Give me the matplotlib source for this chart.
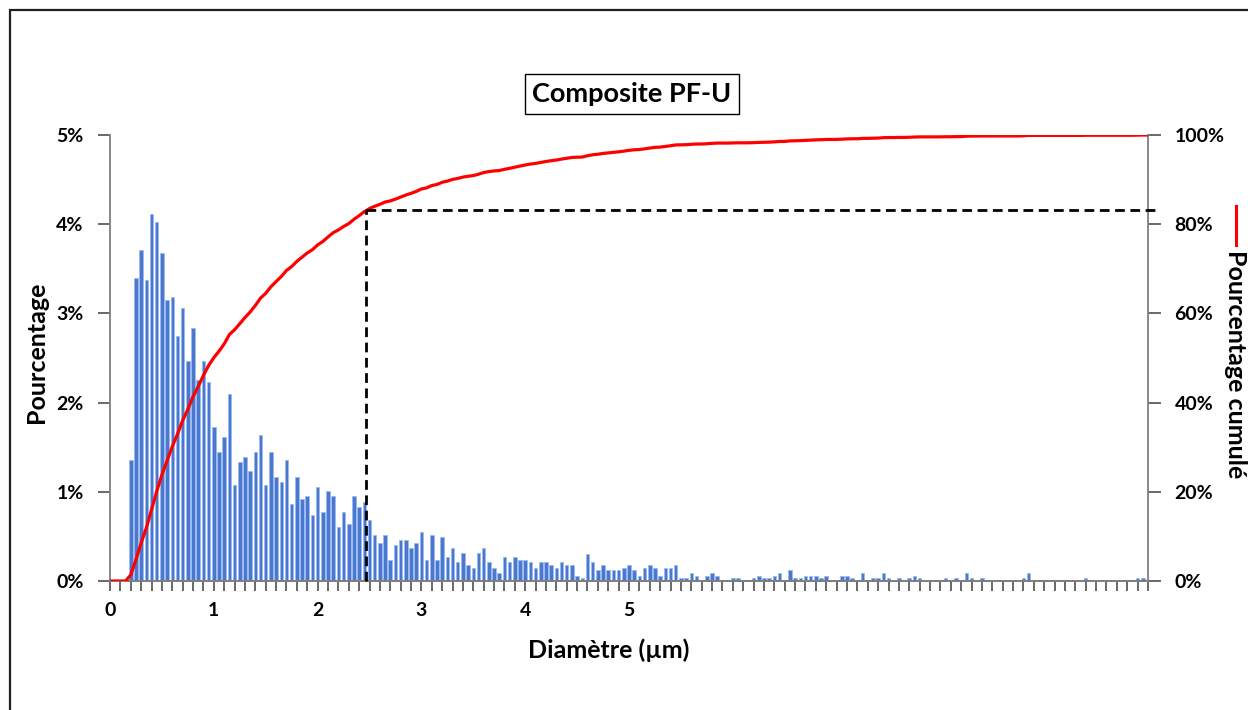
import numpy as np
import matplotlib
matplotlib.use("Agg")
import matplotlib.pyplot as plt
from matplotlib.patches import Rectangle
from matplotlib.lines import Line2D

plt.rcParams['font.family'] = ['Lato', 'DejaVu Sans']
plt.rcParams['font.weight'] = 'bold'

# ---- data ----
bin_width = 0.05
first_bin = 0.20
pct = [
    # 0.20 - 1.35
    1.36, 3.40, 3.71, 3.37, 4.11, 4.02, 3.68, 3.15, 3.18, 2.75, 3.06, 2.47,
    2.84, 2.25, 2.47, 2.23, 1.73, 1.45, 1.61, 2.10, 1.08, 1.33, 1.39, 1.23,
    # 1.40 - 2.45
    1.45, 1.64, 1.08, 1.45, 1.17, 1.11, 1.36, 0.86, 1.17, 0.92, 0.95, 0.74,
    1.05, 0.77, 1.01, 0.95, 0.61, 0.77, 0.64, 0.95, 0.83, 0.89,
    # 2.50 - 3.75
    0.68, 0.52, 0.43, 0.52, 0.24, 0.40, 0.46, 0.46, 0.37, 0.43, 0.55, 0.24,
    0.52, 0.24, 0.49, 0.27, 0.37, 0.21, 0.31, 0.18, 0.15, 0.31, 0.37, 0.21,
    0.15, 0.09,
    # 3.80 - 4.95
    0.27, 0.21, 0.27, 0.24, 0.24, 0.21, 0.15, 0.21, 0.21, 0.18, 0.15, 0.21,
    0.18, 0.18, 0.06, 0.03, 0.30, 0.21, 0.12, 0.18, 0.12, 0.12, 0.12, 0.15,
    # 5.00 - 5.95
    0.18, 0.12, 0.06, 0.15, 0.18, 0.15, 0.06, 0.15, 0.15, 0.18, 0.03, 0.03,
    0.09, 0.06, 0.00, 0.06, 0.09, 0.06, 0.00, 0.00,
    # 6.00 - 6.95
    0.03, 0.03, 0.00, 0.00, 0.03, 0.06, 0.03, 0.03, 0.06, 0.09, 0.00, 0.12,
    0.03, 0.03, 0.06, 0.06, 0.06, 0.03, 0.06, 0.00,
    # 7.00 - 7.95
    0.00, 0.06, 0.06, 0.03, 0.00, 0.09, 0.00, 0.03, 0.03, 0.09, 0.03, 0.00,
    0.03, 0.00, 0.03, 0.06, 0.03, 0.00, 0.00, 0.00,
    # 8.00 - 8.95
    0.00, 0.03, 0.00, 0.03, 0.00, 0.09, 0.03, 0.00, 0.03, 0.00, 0.00, 0.00,
    0.00, 0.00, 0.00, 0.00, 0.03, 0.09, 0.00, 0.00,
    # 9.00 - 9.95
    0.00, 0.00, 0.00, 0.00, 0.00, 0.00, 0.00, 0.00, 0.03, 0.00, 0.00, 0.00,
    0.00, 0.00, 0.00, 0.00, 0.00, 0.00, 0.03, 0.03,
]
x_label_values = [0, 1, 2, 3, 4, 5]
left_ticks = [0, 1, 2, 3, 4, 5]
right_ticks = [0, 20, 40, 60, 80, 100]
d80_x = 2.47          # diameter marked by the dashed guide
title = "Composite PF-U"
xlabel = "Diamètre (µm)"
ylabel_left = "Pourcentage"
ylabel_right = "Pourcentage cumulé"

# ---- derived ----
pct = np.array(pct)
xpos = first_bin + bin_width * np.arange(len(pct))
cum = np.cumsum(pct) / pct.sum() * 100.0
line_x = np.concatenate([[0.0, first_bin - bin_width], xpos, [10.0]])
line_y = np.concatenate([[0.0, 0.0], cum, [100.0]])
d80_y = np.interp(d80_x, line_x, line_y)

W, H = 1248, 710
fig = plt.figure(figsize=(W / 100, H / 100), dpi=100)

def fx(px):
    return px / W

def fy(py):
    return 1 - py / H

ax = fig.add_axes([fx(110), fy(581), fx(1148) - fx(110), fy(135) - fy(581)])
ax2 = ax.twinx()

ax.bar(xpos, pct, width=0.034, color='#4a78cf', edgecolor='#9cbaf0',
       linewidth=0.6, zorder=2)
ax.set_xlim(0, 10)
ax.set_ylim(0, 5)

ax2.plot(line_x, line_y, color='#ff0000', linewidth=2.3, zorder=4)
ax2.set_ylim(0, 100)

# dashed guide
ax2.plot([d80_x, d80_x], [0, d80_y], color='black', linestyle=(0, (3.5, 2)),
         linewidth=2.0, zorder=5, clip_on=False)
ax2.plot([d80_x, 10.12], [d80_y, d80_y], color='black', linestyle=(0, (3.5, 2)),
         linewidth=2.0, zorder=5, clip_on=False)

spine_col = '#7f7f7f'
for a in (ax, ax2):
    a.spines['top'].set_visible(False)
    for s in ('left', 'right', 'bottom'):
        a.spines[s].set_color(spine_col)
        a.spines[s].set_linewidth(1.3)

ax.spines['right'].set_visible(False)
ax2.spines['left'].set_visible(False)

# x ticks every 0.1, labels only at integers 0..5
xt = np.round(np.arange(0, 10.0001, 0.1), 2)
ax.set_xticks(xt)
ax.set_xticklabels([str(int(round(v))) if (abs(v - round(v)) < 1e-6 and int(round(v)) in x_label_values) else ''
                    for v in xt])
ax.tick_params(axis='x', direction='out', length=7, width=1.1, color='#404040',
               labelsize=14, pad=8)

ax.set_yticks(left_ticks)
ax.set_yticklabels([f"{v}%" for v in left_ticks])
ax.tick_params(axis='y', direction='out', length=9, width=1.1, color='#404040',
               labelsize=14, pad=10)

ax2.set_yticks(right_ticks)
ax2.set_yticklabels([f"{v}%" for v in right_ticks])
ax2.tick_params(axis='y', direction='out', length=9, width=1.1, color='#404040',
                labelsize=14, pad=10)

for lab in ax.get_xticklabels() + ax.get_yticklabels() + ax2.get_yticklabels():
    lab.set_fontweight('bold')

# labels
fig.text(fx(36), fy(352), ylabel_left, rotation=90, ha='center', va='center',
         fontsize=18, fontweight='bold')
fig.text(fx(609), fy(650), xlabel, ha='center', va='center',
         fontsize=18, fontweight='bold')

# right legend-style label
fig.add_artist(Line2D([fx(1236), fx(1236)], [fy(206), fy(245)], color='#ff0000',
                      linewidth=2.2))
fig.text(fx(1235), fy(364), ylabel_right, rotation=270, ha='center', va='center',
         fontsize=18, fontweight='bold')

# title in a box
fig.text(fx(632), fy(94), title, ha='center', va='center', fontsize=19.5,
         fontweight='bold',
         bbox=dict(boxstyle='square,pad=0.28', facecolor='white',
                   edgecolor='black', linewidth=1.0))

# outer frame (cut off at right & bottom)
fig.add_artist(Rectangle((fx(10), -0.05), 1.2, fy(10) + 0.05, fill=False,
                         edgecolor='#202020', linewidth=1.6,
                         transform=fig.transFigure))

fig.savefig("out.png", dpi=100)
